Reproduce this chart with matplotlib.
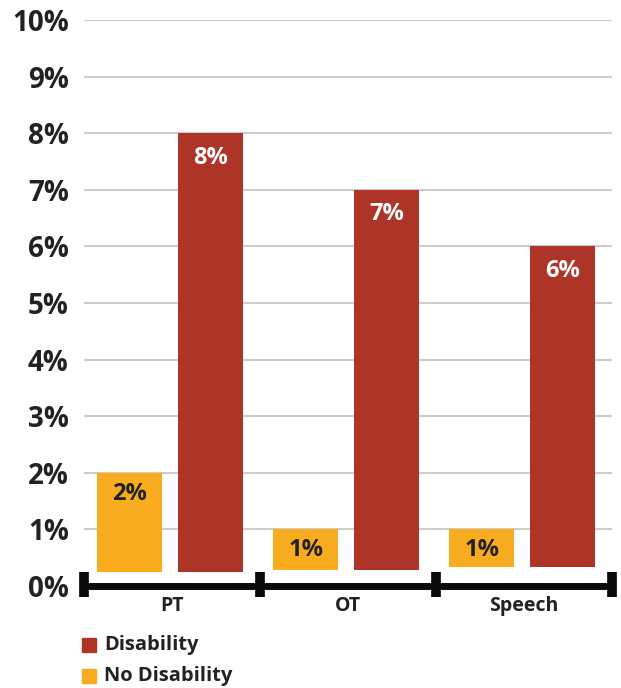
import matplotlib
matplotlib.use("Agg")
import matplotlib.pyplot as plt
from matplotlib.patches import Rectangle
import numpy as np

categories = ["PT", "OT", "Speech"]
no_disability = [2, 1, 1]
disability = [8, 7, 6]
ytick_labels = ["0%", "1%", "2%", "3%", "4%", "5%", "6%", "7%", "8%", "9%", "10%"]
legend_labels = ["Disability", "No Disability"]

RED = "#AF3428"
ORANGE = "#F9AC1E"
TXT = "#222222"
FONT = ["Open Sans", "DejaVu Sans"]

plt.rcParams["font.family"] = FONT

fig = plt.figure(figsize=(6.21, 6.88), dpi=100)
ax = fig.add_axes([84 / 621, (688 - 586) / 688, (612 - 84) / 621, 566 / 688])

x = np.arange(len(categories))
base = [0.25, 0.28, 0.33]
w = 0.37
ax.bar(x - 0.24, np.array(no_disability) - np.array(base), bottom=base, width=w, color=ORANGE, zorder=3)
ax.bar(x + 0.22, np.array(disability) - np.array(base), bottom=base, width=w, color=RED, zorder=3)

for xi, v in zip(x, no_disability):
    ax.text(xi - 0.24, v - 0.37, f"{v}%", ha="center", va="center", color=TXT,
            fontsize=17, fontweight="bold", zorder=4)
for xi, v in zip(x, disability):
    ax.text(xi + 0.22, v - 0.43, f"{v}%", ha="center", va="center", color="white",
            fontsize=17, fontweight="bold", zorder=4)

ax.set_xlim(-0.5, 2.5)
ax.set_ylim(0, 10)
ax.set_yticks(range(11))
ax.set_yticklabels(ytick_labels, fontsize=20, fontweight="bold", color=TXT)
ax.tick_params(axis="y", length=0, pad=11)
ax.set_xticks([])
for yv in range(1, 11):
    ax.axhline(yv, color="#cccccc", lw=1.5, zorder=1)

for s in ["top", "right", "left"]:
    ax.spines[s].set_visible(False)
ax.spines["bottom"].set_linewidth(5)
ax.spines["bottom"].set_color("#0a0a0a")
ax.spines["bottom"].set_zorder(5)

for tx in [-0.5, 0.5, 1.5, 2.5]:
    ax.plot([tx, tx], [-0.2, 0.25], color="#0a0a0a", lw=7, solid_capstyle="butt",
            clip_on=False, zorder=6)

for xi, c in zip(x, categories):
    ax.text(xi, -0.36, c, ha="center", va="center", fontsize=14, fontweight="bold",
            color=TXT, clip_on=False)

# legend
for i, (lab, col) in enumerate(zip(legend_labels, [RED, ORANGE])):
    ypix = 645 + i * 31
    yf = 1 - ypix / 688
    fig.patches.append(Rectangle((82 / 621, yf - 7 / 688), 14 / 621, 14 / 688,
                                 transform=fig.transFigure, color=col, figure=fig))
    fig.text(104 / 621, yf, lab, ha="left", va="center", fontsize=14.5,
             fontweight="bold", color=TXT)

fig.savefig("out.png", dpi=100)
